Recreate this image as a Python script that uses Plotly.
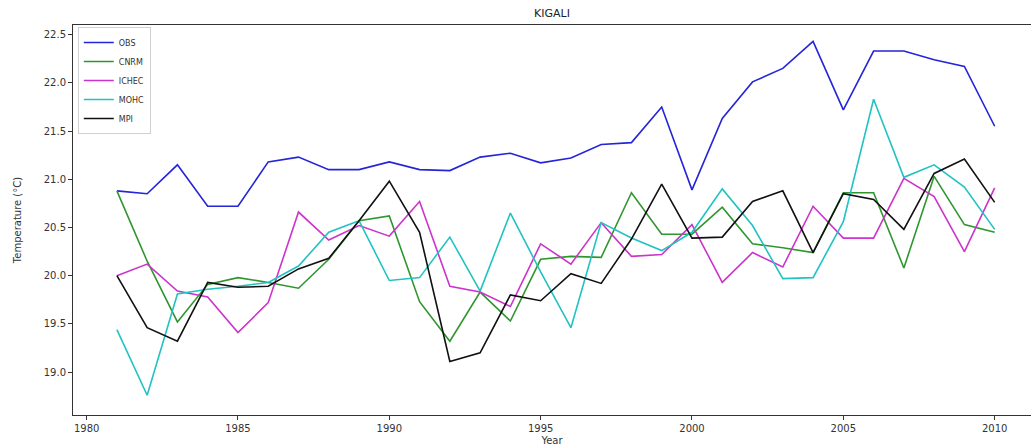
import plotly.graph_objects as go

# Annual mean temperature at Kigali: observations and regional model runs
years = list(range(1981, 2011))

obs = [20.88, 20.85, 21.15, 20.72, 20.72, 21.18, 21.23, 21.10, 21.10, 21.18,
       21.10, 21.09, 21.23, 21.27, 21.17, 21.22, 21.36, 21.38, 21.75, 20.89,
       21.63, 22.01, 22.15, 22.43, 21.72, 22.33, 22.33, 22.24, 22.17, 21.55]

cnrm = [20.88, 20.15, 19.52, 19.91, 19.98, 19.93, 19.87, 20.17, 20.57, 20.62,
        19.73, 19.32, 19.83, 19.53, 20.17, 20.20, 20.19, 20.86, 20.43, 20.43,
        20.71, 20.33, 20.29, 20.24, 20.86, 20.86, 20.08, 21.03, 20.53, 20.45]

ichec = [20.00, 20.12, 19.84, 19.78, 19.41, 19.72, 20.66, 20.37, 20.52, 20.41,
         20.77, 19.89, 19.83, 19.68, 20.33, 20.12, 20.55, 20.20, 20.22, 20.53,
         19.93, 20.24, 20.09, 20.72, 20.39, 20.39, 21.01, 20.82, 20.25, 20.91]

mohc = [19.44, 18.76, 19.81, 19.86, 19.89, 19.93, 20.10, 20.45, 20.57, 19.95,
        19.98, 20.40, 19.84, 20.65, 20.04, 19.46, 20.55, 20.39, 20.26, 20.45,
        20.90, 20.52, 19.97, 19.98, 20.56, 21.83, 21.02, 21.15, 20.92, 20.48]

mpi = [20.00, 19.46, 19.32, 19.93, 19.88, 19.89, 20.07, 20.18, 20.57, 20.98,
       20.45, 19.11, 19.20, 19.80, 19.74, 20.02, 19.92, 20.38, 20.95, 20.39,
       20.40, 20.77, 20.88, 20.24, 20.85, 20.79, 20.48, 21.06, 21.21, 20.76]

series_names = ["OBS", "CNRM", "ICHEC", "MOHC", "MPI"]
series_values = [obs, cnrm, ichec, mohc, mpi]
series_colors = ["#2424d8", "#2f962f", "#cc33cc", "#22c2c2", "#111111"]

x_ticks = [1980, 1985, 1990, 1995, 2000, 2005, 2010]
y_ticks = [19.0, 19.5, 20.0, 20.5, 21.0, 21.5, 22.0, 22.5]

fig = go.Figure()
for name, vals, col in zip(series_names, series_values, series_colors):
    fig.add_trace(go.Scatter(x=years, y=vals, mode="lines", name=name,
                             line=dict(color=col, width=1.6)))

font = "DejaVu Sans, Arial, sans-serif"
axis_common = dict(showgrid=False, zeroline=False, showline=True,
                   linecolor="#333333", linewidth=1, ticks="outside",
                   ticklen=4, tickcolor="#333333",
                   tickfont=dict(family=font, size=10, color="#333333"))

fig.update_layout(
    width=1031, height=446,
    margin=dict(l=73, r=0, t=25, b=31),
    paper_bgcolor="white", plot_bgcolor="white",
    title=dict(text="KIGALI", x=0.5, xanchor="center", xref="paper",
               y=1, yanchor="bottom", yref="paper", pad=dict(b=8),
               font=dict(family=font, size=11, color="#222222")),
    xaxis=dict(range=[1979.55, 2011.2], tickvals=x_ticks, mirror=True,
               title=dict(text="Year", standoff=3,
                          font=dict(family=font, size=10, color="#333333")),
               **axis_common),
    yaxis=dict(range=[18.555, 22.60], tickvals=y_ticks, tickformat=".1f",
               title=dict(text="Temperature (°C)", standoff=20,
                          font=dict(family=font, size=10, color="#333333")),
               **axis_common),
    legend=dict(x=0.005, y=0.995, xanchor="left", yanchor="top",
                bgcolor="rgba(255,255,255,0.8)", bordercolor="#d0d0d0",
                borderwidth=1, font=dict(family=font, size=8, color="#333333"),
                tracegroupgap=0, itemwidth=30),
    showlegend=True,
)

fig.write_html("out.html")
